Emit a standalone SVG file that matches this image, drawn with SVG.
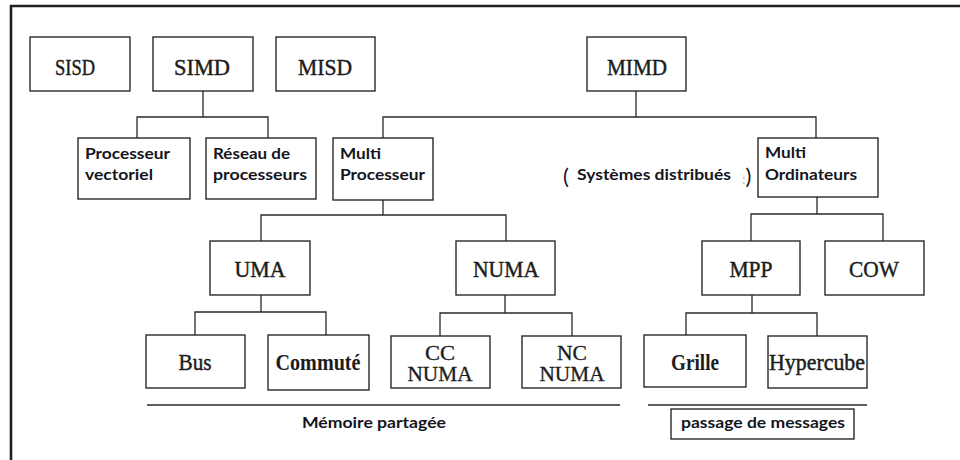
<svg xmlns="http://www.w3.org/2000/svg" width="960" height="460" viewBox="0 0 960 460">
  <style>
    .box { fill: #ffffff; stroke: #2a2a2a; stroke-width: 1.4; }
    .crisp { fill: #ffffff; stroke: #1a1a1a; stroke-width: 1.3; }
    .wire { fill: none; stroke: #2a2a2a; stroke-width: 1.3; }
    .serif { font-family: "Liberation Serif", "Times New Roman", serif; font-size: 24px; fill: #1c1c1c; stroke: #1c1c1c; stroke-width: 0.45; text-anchor: middle; }
    .serif-b { font-family: "Liberation Serif", "Times New Roman", serif; font-size: 23px; font-weight: bold; fill: #1c1c1c; text-anchor: middle; }
    .serif2 { font-family: "Liberation Serif", "Times New Roman", serif; font-size: 20px; fill: #1c1c1c; stroke: #1c1c1c; stroke-width: 0.3; text-anchor: middle; }
    .sans { font-family: Lato, "Open Sans", "Liberation Sans", sans-serif; font-size: 16px; font-weight: bold; fill: #151520; }
  </style>

  <rect width="960" height="460" fill="#ffffff"/>

  <!-- outer frame: top and left edges -->
  <path d="M11 460 V6 H960" fill="none" stroke="#1e1e24" stroke-width="2.6"/>

  <!-- connectors -->
  <g id="connectors" class="wire">
    <path d="M203 91 V117 M137 138 V117 H268 V138"/>
    <path d="M636 91 V117 M383 138 V117 H816 V138"/>
    <path d="M383 200 V215 M261 241 V215 H506 V241"/>
    <path d="M817 197 V214 M751 241 V214 H883 V241"/>
    <path d="M261 295 V312 M195 335 V312 H326 V335"/>
    <path d="M505 295 V313 M440 336 V313 H572 V336"/>
    <path d="M752 295 V313 M686 335 V313 H817 V336"/>
    <path d="M147 405 H620 M648 405 H867" stroke-width="1.6"/>
  </g>

  <!-- top level -->
  <g id="sisd"><rect class="box" x="30" y="37" width="100" height="54"/><text class="serif" x="75" y="75" textLength="40" lengthAdjust="spacingAndGlyphs">SISD</text></g>
  <g id="simd"><rect class="box" x="153" y="37" width="100" height="54"/><text class="serif" x="202" y="75" textLength="56" lengthAdjust="spacingAndGlyphs">SIMD</text></g>
  <g id="misd"><rect class="box" x="276" y="37" width="99" height="54"/><text class="serif" x="325" y="75" textLength="54" lengthAdjust="spacingAndGlyphs">MISD</text></g>
  <g id="mimd"><rect class="box" x="587" y="37" width="99" height="54"/><text class="serif" x="637" y="75" textLength="60" lengthAdjust="spacingAndGlyphs">MIMD</text></g>

  <!-- second level -->
  <g id="processeur-vectoriel"><rect class="crisp" x="78" y="138" width="112" height="61"/>
    <text class="sans" x="85" y="159" textLength="85" lengthAdjust="spacingAndGlyphs">Processeur</text>
    <text class="sans" x="85" y="180" textLength="68" lengthAdjust="spacingAndGlyphs">vectoriel</text></g>
  <g id="reseau-processeurs"><rect class="crisp" x="206" y="138" width="110" height="61"/>
    <text class="sans" x="213" y="159" textLength="77" lengthAdjust="spacingAndGlyphs">Réseau de</text>
    <text class="sans" x="213" y="180" textLength="94" lengthAdjust="spacingAndGlyphs">processeurs</text></g>
  <g id="multi-processeur"><rect class="crisp" x="333" y="138" width="100" height="62"/>
    <text class="sans" x="340" y="159" textLength="41" lengthAdjust="spacingAndGlyphs">Multi</text>
    <text class="sans" x="340" y="180" textLength="85" lengthAdjust="spacingAndGlyphs">Processeur</text></g>
  <g id="multi-ordinateurs"><rect class="crisp" x="758" y="138" width="120" height="59"/>
    <text class="sans" x="765" y="158" textLength="41" lengthAdjust="spacingAndGlyphs">Multi</text>
    <text class="sans" x="765" y="180" textLength="92" lengthAdjust="spacingAndGlyphs">Ordinateurs</text></g>
  <g id="systemes-distribues">
    <text x="563" y="184" font-family="Lato, 'Liberation Sans', sans-serif" font-size="22" fill="#151520">(</text>
    <text class="sans" x="577" y="180" textLength="154" lengthAdjust="spacingAndGlyphs">Systèmes distribués</text>
    <text x="742" y="184" font-family="Lato, 'Liberation Sans', sans-serif" font-size="22" fill="#151520"><tspan fill="#bbbbbb" font-size="14">:</tspan>)</text>
  </g>

  <!-- third level -->
  <g id="uma"><rect class="box" x="210" y="241" width="100" height="54"/><text class="serif" x="260" y="277" textLength="51" lengthAdjust="spacingAndGlyphs">UMA</text></g>
  <g id="numa"><rect class="box" x="456" y="241" width="99" height="54"/><text class="serif" x="506" y="277" textLength="66" lengthAdjust="spacingAndGlyphs">NUMA</text></g>
  <g id="mpp"><rect class="box" x="702" y="241" width="98" height="54"/><text class="serif" x="751" y="277" textLength="43" lengthAdjust="spacingAndGlyphs">MPP</text></g>
  <g id="cow"><rect class="box" x="825" y="241" width="99" height="54"/><text class="serif" x="874" y="277" textLength="50" lengthAdjust="spacingAndGlyphs">COW</text></g>

  <!-- leaves -->
  <g id="bus"><rect class="box" x="146" y="335" width="99" height="53"/><text class="serif" x="195" y="370" textLength="33" lengthAdjust="spacingAndGlyphs">Bus</text></g>
  <g id="commute"><rect class="crisp" x="268" y="335" width="101" height="55"/><text class="serif-b" x="318" y="370" textLength="85" lengthAdjust="spacingAndGlyphs">Commuté</text></g>
  <g id="cc-numa"><rect class="box" x="391" y="336" width="99" height="52"/>
    <text class="serif2" x="440" y="360" textLength="30" lengthAdjust="spacingAndGlyphs">CC</text>
    <text class="serif2" x="440" y="381" textLength="65" lengthAdjust="spacingAndGlyphs">NUMA</text></g>
  <g id="nc-numa"><rect class="box" x="522" y="336" width="99" height="52"/>
    <text class="serif2" x="572" y="360" textLength="30" lengthAdjust="spacingAndGlyphs">NC</text>
    <text class="serif2" x="572" y="381" textLength="65" lengthAdjust="spacingAndGlyphs">NUMA</text></g>
  <g id="grille"><rect class="crisp" x="644" y="335" width="102" height="52"/><text class="serif-b" x="695" y="370" textLength="48" lengthAdjust="spacingAndGlyphs">Grille</text></g>
  <g id="hypercube"><rect class="box" x="768" y="336" width="99" height="52"/><text class="serif" x="817" y="370" textLength="96" lengthAdjust="spacingAndGlyphs">Hypercube</text></g>

  <!-- group captions -->
  <g id="memoire-partagee"><text class="sans" x="302" y="428" textLength="144" lengthAdjust="spacingAndGlyphs">Mémoire partagée</text></g>
  <g id="passage-messages"><rect class="crisp" x="671" y="409" width="183" height="30"/>
    <text class="sans" x="681" y="428" textLength="164" lengthAdjust="spacingAndGlyphs">passage de messages</text></g>
</svg>
